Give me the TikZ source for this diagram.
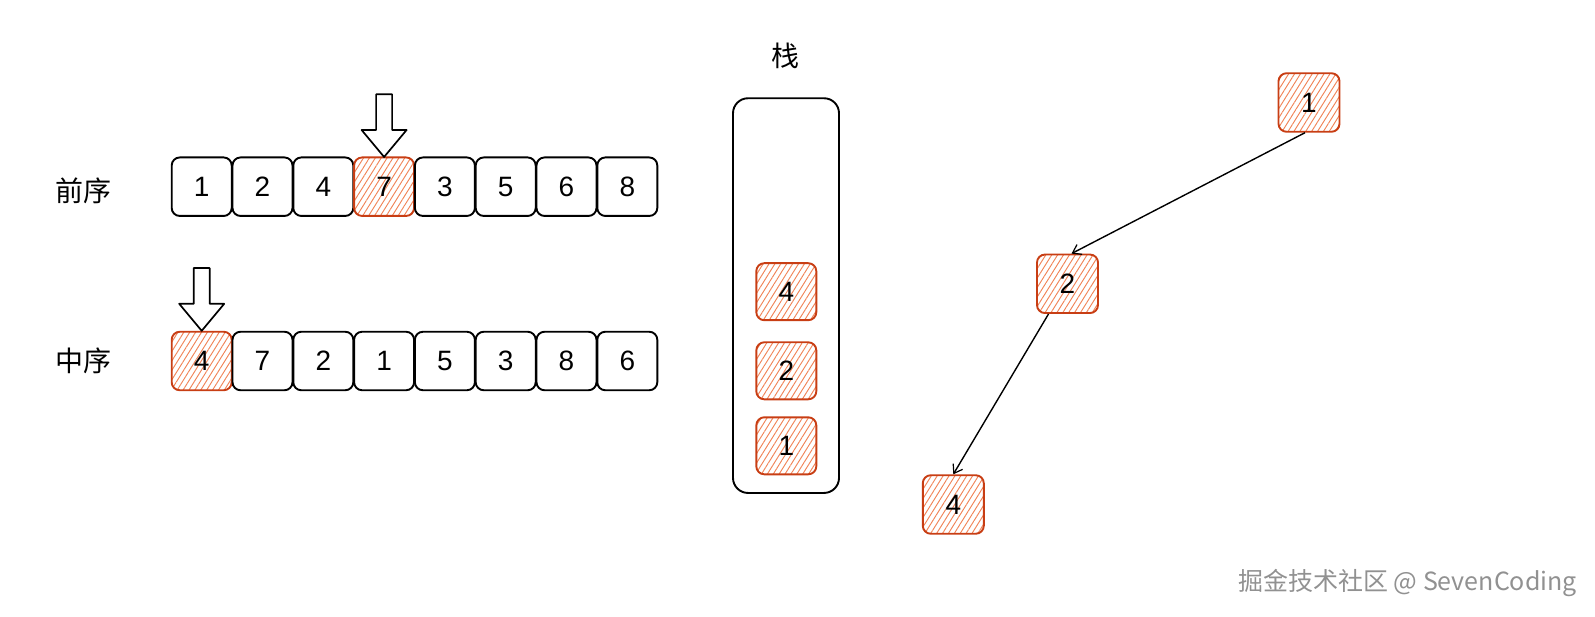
\documentclass[tikz,border=0pt]{standalone}
\usepackage{fontspec}
\setmainfont{Liberation Sans}
\newfontfamily\cjk{Noto Sans CJK SC}
\usetikzlibrary{arrows.meta,patterns.meta}
\definecolor{hatchc}{RGB}{240,132,88}
\definecolor{borderc}{RGB}{200,62,20}
\definecolor{wmgray}{RGB}{145,145,145}
\begin{document}
\begin{tikzpicture}[x=1pt,y=-1pt,
  cell/.style={draw=black, line width=1.9pt, rounded corners=8pt, minimum width=60pt,
    minimum height=58.5pt, inner sep=0pt, font=\fontsize{28}{28}\selectfont},
  hot/.style={cell, draw=borderc, pattern={Lines[angle=58,distance=5pt,line width=0.95pt]},
    pattern color=hatchc},
  lbl/.style={font=\cjk\fontsize{28}{28}\selectfont, inner sep=0pt},
  conn/.style={draw=black, line width=1.4pt, -{Straight Barb[length=8pt,width=11pt,line width=1.2pt]}},
  downarrow/.pic={\draw[line width=1.7pt, fill=white, line join=round]
     (0,0) -- (-22.5,-27) -- (-8,-27) -- (-8,-62.7) -- (8,-62.7) -- (8,-27) -- (22.5,-27) -- cycle;}
]
\useasboundingbox (0,0) rectangle (1595,617);

% labels
\node[lbl] (lpre) at (83,190.5) {前序};
\node[lbl] (lin) at (83,361) {中序};

% preorder row
\node[cell] (pre1) at (201.7,186.7) {1};
\node[cell] (pre2) at (262.5,186.7) {2};
\node[cell] (pre3) at (323.3,186.7) {4};
\node[hot]  (pre4) at (384.1,186.7) {7};
\node[cell] (pre5) at (444.9,186.7) {3};
\node[cell] (pre6) at (505.7,186.7) {5};
\node[cell] (pre7) at (566.5,186.7) {6};
\node[cell] (pre8) at (627.3,186.7) {8};

% inorder row
\node[hot]  (in1) at (201.7,361) {4};
\node[cell] (in2) at (262.5,361) {7};
\node[cell] (in3) at (323.3,361) {2};
\node[cell] (in4) at (384.1,361) {1};
\node[cell] (in5) at (444.9,361) {5};
\node[cell] (in6) at (505.7,361) {3};
\node[cell] (in7) at (566.5,361) {8};
\node[cell] (in8) at (627.3,361) {6};

% pointers
\pic at (pre4.north) {downarrow};
\pic at (in1.north) {downarrow};

% stack
\node[lbl] (lstack) at (785.5,56) {栈};
\node[draw=black, line width=1.9pt, rounded corners=15pt, minimum width=106pt,
  minimum height=394.7pt, inner sep=0pt] (stack) at (786,295.6) {};
\node[hot, minimum height=57pt] (s4) at (786.3,291.7) {4};
\node[hot, minimum height=57pt] (s2) at (786.3,370.8) {2};
\node[hot, minimum height=57pt] (s1) at (786.3,445.8) {1};

% tree
\node[hot, minimum width=61pt] (t1) at (1309,102.5) {1};
\node[hot, minimum width=61pt] (t2) at (1067.5,283.8) {2};
\node[hot, minimum width=61pt] (t4) at (953.3,504.5) {4};
\draw[conn] ([xshift=-4pt]t1.south) -- ([xshift=4pt]t2.north);
\draw[conn] ([xshift=-19pt]t2.south) -- (t4.north);

% watermark
\node[anchor=east, font=\cjk\fontsize{25}{25}\selectfont, text=wmgray, inner sep=0pt]
  (wm) at (1577,583) {掘金技术社区 @ SevenCoding};
\end{tikzpicture}
\end{document}
